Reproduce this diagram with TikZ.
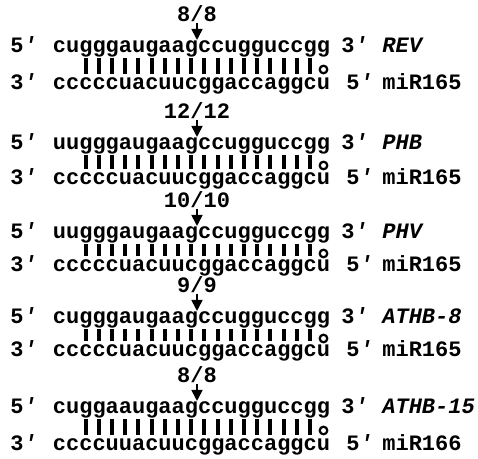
\documentclass[tikz,border=0pt]{standalone}
\usepackage{fontspec}
\setmonofont{Liberation Mono}
\usetikzlibrary{arrows.meta}
\newcommand{\pr}{{\itshape '}}
\begin{document}
\begin{tikzpicture}[x=0.5pt,y=-0.5pt,
  seq/.style={anchor=base west,inner sep=0pt,font=\ttfamily\bfseries\fontsize{11}{13}\selectfont},
  gene/.style={seq,font=\ttfamily\bfseries\itshape\fontsize{11}{13}\selectfont},
  hits/.style={seq,anchor=base},
  pair/.style={line width=2pt},
  wobble/.style={line width=1.1pt},
  cut/.style={line width=0.8pt,-{Triangle[length=5.5pt,width=5.5pt]}}]
\useasboundingbox (0,0) rectangle (478,459);
% one block per target gene: top baseline, bottom baseline, target, miRNA
\foreach \t/\b/\tgt/\gene/\mir/\mirname/\frac [count=\i] in {
  53/90/cugggaugaagccugguccgg/REV/cccccuacuucggaccaggcu/miR165/8{/}8,
  150/185/uugggaugaagccugguccgg/PHB/cccccuacuucggaccaggcu/miR165/12{/}12,
  239/272/uugggaugaagccugguccgg/PHV/cccccuacuucggaccaggcu/miR165/10{/}10,
  324/357/cugggaugaagccugguccgg/ATHB-8/cccccuacuucggaccaggcu/miR165/9{/}9,
  414/451/cuggaaugaagccugguccgg/ATHB-15/ccccuuacuucggaccaggcu/miR166/8{/}8}
{
  \node[seq] (fivetop\i) at (10,\t) {5\pr};
  \node[seq] (target\i) at (52.5,\t) {\tgt};
  \node[seq] (threetop\i) at (341,\t) {3\pr};
  \node[gene] (gene\i) at (382,\t) {\gene};
  \node[seq] (threebot\i) at (10,\b) {3\pr};
  \node[seq] (mirna\i) at (52.5,\b) {\mir};
  \node[seq] (fivebot\i) at (346,\b) {5\pr};
  \node[seq] (mirname\i) at (382,\b) {\mirname};
  % cleavage site
  \node[hits] (frac\i) at (197,\t-31) {\frac};
  \coordinate (site\i) at (197,\t-13);
  \draw[cut] (frac\i.south) -- (site\i);
  % base pairs
  \foreach \k in {2,...,19}
    \draw[pair] ({52.5+13.2*\k+6.6},\t+5) -- ({52.5+13.2*\k+6.6},\b-16);
  \draw[wobble] ({52.5+13.2*20+7},{(\t+\b)/2-2}) circle (3.8);
}
\end{tikzpicture}
\end{document}
